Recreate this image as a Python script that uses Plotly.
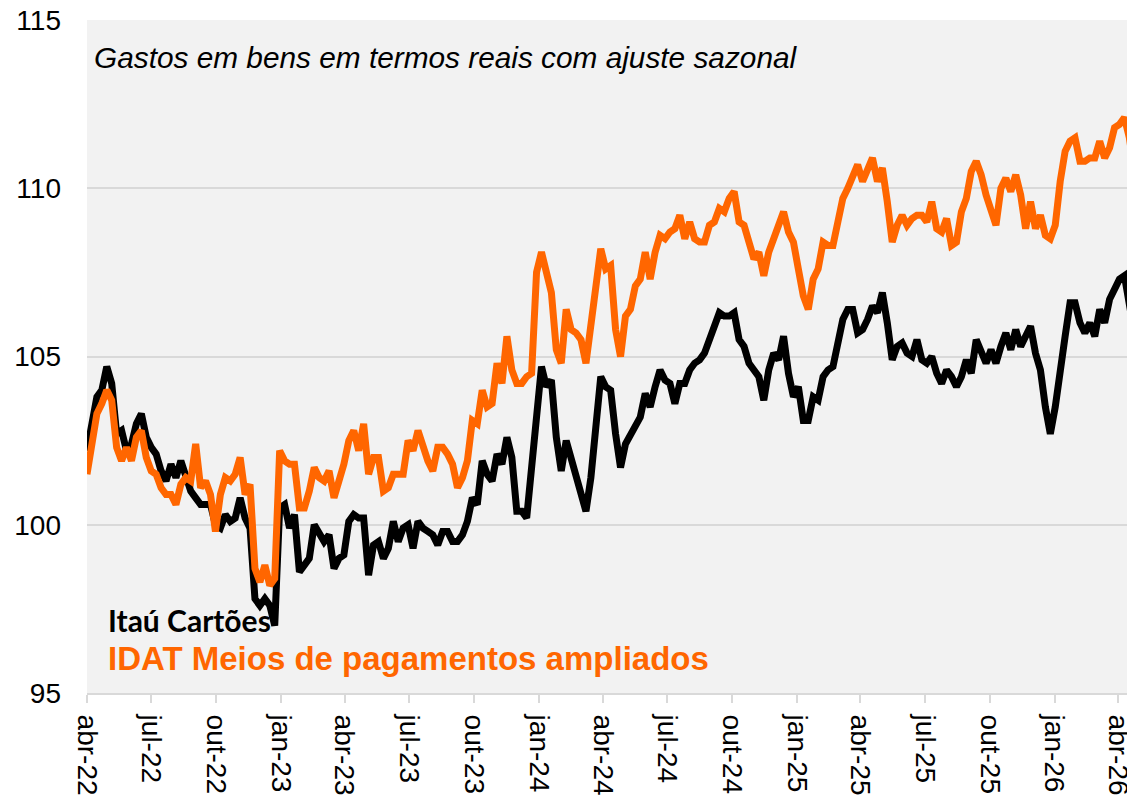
import pandas as pd
import plotly.graph_objects as go

# weekly readings, starting 1 Apr 2022
start = "2022-04-01"

itau = [
    102.2, 103.0, 103.8, 104.0, 104.7, 104.2, 102.7, 102.8, 102.2, 102.4,
    103.0, 103.3, 102.6, 102.3, 102.1, 101.6, 101.3, 101.8, 101.4, 101.9,
    101.4, 101.0, 100.8, 100.6, 100.6, 100.6, 100.0, 99.9, 100.3, 100.1,
    100.2, 100.8, 100.2, 99.9, 97.8, 97.6, 97.8, 97.6, 97.0, 100.5,
    100.6, 99.9, 100.3, 98.6, 98.8, 99.0, 100.0, 99.7, 99.5, 99.7,
    98.7, 99.0, 99.1, 100.1, 100.3, 100.2, 100.2, 98.5, 99.4, 99.5,
    99.0, 99.3, 100.1, 99.5, 99.9, 100.0, 99.3, 100.1, 99.9, 99.8,
    99.7, 99.4, 99.8, 99.8, 99.5, 99.5, 99.7, 100.1, 100.8, 100.6,
    101.9, 101.5, 101.3, 102.1, 101.8, 102.6, 102.0, 100.4, 100.4, 100.2,
    101.9, 103.5, 104.7, 104.1, 104.3, 102.6, 101.6, 102.5, 102.0, 101.4,
    100.9, 100.4, 101.4, 103.0, 104.4, 104.1, 104.0, 102.7, 101.7, 102.4,
    102.7, 103.0, 103.2, 103.9, 103.5, 104.1, 104.6, 104.3, 104.2, 103.6,
    104.2, 104.2, 104.6, 104.8, 104.9, 105.1, 105.5, 106.0, 106.3, 106.2,
    106.2, 106.3, 105.5, 105.3, 104.8, 104.6, 104.4, 103.7, 104.6, 105.1,
    104.9, 105.6, 104.5, 103.8, 104.1, 103.1, 103.1, 103.8, 103.7, 104.4,
    104.6, 104.7, 105.5, 106.1, 106.4, 106.4, 105.7, 105.8, 106.1, 106.5,
    106.3, 106.9, 106.0, 104.9, 105.3, 105.4, 105.1, 105.0, 105.5, 104.9,
    104.8, 105.0, 104.5, 104.2, 104.6, 104.4, 104.1, 104.4, 104.9, 104.5,
    105.5, 105.1, 104.8, 105.2, 104.8, 105.3, 105.7, 105.2, 105.8, 105.3,
    105.6, 105.9, 105.1, 104.6, 103.5, 102.7, 103.5, 104.4, 105.6, 106.6,
    106.6, 106.0, 105.7, 106.0, 105.6, 106.4, 106.0, 106.7, 107.0, 107.3,
    107.4, 106.6, 105.7,
]

idat = [
    101.5, 102.5, 103.3, 103.6, 104.0, 103.7, 102.3, 101.9, 102.3, 101.9,
    102.6, 102.8, 102.0, 101.6, 101.5, 101.1, 100.9, 100.9, 100.6, 101.2,
    101.4, 101.3, 102.4, 101.1, 101.3, 100.9, 99.8, 100.9, 101.4, 101.3,
    101.5, 102.0, 100.9, 101.2, 98.7, 98.3, 98.8, 98.2, 98.4, 102.2,
    101.9, 101.8, 101.8, 100.5, 100.5, 101.0, 101.7, 101.4, 101.3, 101.6,
    100.8, 101.3, 101.8, 102.5, 102.8, 102.2, 103.0, 101.5, 102.0, 102.0,
    101.0, 101.1, 101.5, 101.5, 101.5, 102.5, 102.2, 102.8, 102.3, 101.9,
    101.6, 102.3, 102.3, 102.1, 101.8, 101.1, 101.4, 101.9, 103.1, 103.0,
    104.0, 103.5, 103.6, 104.8, 104.2, 105.6, 104.6, 104.2, 104.2, 104.4,
    104.5, 107.5, 108.1, 107.4, 106.9, 105.2, 104.8, 106.4, 105.8, 105.7,
    105.5, 104.8, 105.9, 107.2, 108.2, 107.6, 107.7, 105.8, 105.0, 106.2,
    106.4, 107.1, 107.3, 108.1, 107.3, 108.1, 108.6, 108.5, 108.7, 108.8,
    109.2, 108.5, 109.0, 108.5, 108.4, 108.4, 108.9, 109.0, 109.4, 109.3,
    109.7, 109.9, 109.0, 108.9, 108.4, 107.9, 108.1, 107.4, 108.1, 108.5,
    108.8, 109.3, 108.7, 108.4, 107.6, 106.8, 106.4, 107.3, 107.6, 108.4,
    108.3, 108.3, 109.0, 109.7, 110.0, 110.3, 110.7, 110.2, 110.6, 110.9,
    110.2, 110.6, 109.6, 108.4, 108.9, 109.2, 108.9, 109.1, 109.2, 109.2,
    109.0, 109.6, 108.8, 108.7, 109.1, 108.3, 108.4, 109.3, 109.7, 110.5,
    110.8, 110.4, 109.8, 109.3, 108.9, 110.0, 110.3, 109.9, 110.4, 109.8,
    108.8, 109.6, 108.8, 109.2, 108.6, 108.5, 108.9, 110.2, 111.1, 111.4,
    111.5, 110.8, 110.8, 110.9, 110.9, 111.4, 110.9, 111.2, 111.8, 111.9,
    112.1, 111.5, 110.5,
]

tick_dates = ["2022-04-01", "2022-07-01", "2022-10-01", "2023-01-01",
              "2023-04-01", "2023-07-01", "2023-10-01", "2024-01-01",
              "2024-04-01", "2024-07-01", "2024-10-01", "2025-01-01",
              "2025-04-01", "2025-07-01", "2025-10-01", "2026-01-01",
              "2026-04-01"]
tick_labels = ["abr-22", "jul-22", "out-22", "jan-23", "abr-23", "jul-23",
               "out-23", "jan-24", "abr-24", "jul-24", "out-24", "jan-25",
               "abr-25", "jul-25", "out-25", "jan-26", "abr-26"]

dates = pd.date_range(start, periods=len(itau), freq="7D")

fig = go.Figure()
fig.add_trace(go.Scatter(x=dates, y=itau, mode="lines", name="Itaú Cartões",
                         line=dict(color="#000000", width=7)))
fig.add_trace(go.Scatter(x=dates, y=idat, mode="lines",
                         name="IDAT Meios de pagamentos ampliados",
                         line=dict(color="#FF6600", width=7)))

# page body has an 8px margin, so the figure is a bit smaller than the window
fig.update_layout(
    width=1127, height=790,
    margin=dict(l=79, r=0, t=12, b=105),
    paper_bgcolor="white", plot_bgcolor="#f2f2f2",
    showlegend=False,
    font=dict(family="Liberation Sans, Arial", size=28, color="#000000"),
)
fig.update_yaxes(range=[95, 115], dtick=5, showgrid=True,
                 gridcolor="#d9d9d9", gridwidth=2, zeroline=False,
                 ticklabelstandoff=25, tickfont=dict(size=28),
                 ticklabeloverflow="allow", automargin=False)
fig.update_xaxes(type="date", range=["2022-04-01", "2026-04-25"],
                 tickvals=tick_dates, ticktext=tick_labels, tickangle=90,
                 ticks="outside", ticklen=8, tickwidth=2, tickcolor="#d9d9d9",
                 showgrid=False, showline=True, linecolor="#d9d9d9",
                 linewidth=2, ticklabelstandoff=6, tickfont=dict(size=28),
                 ticklabeloverflow="allow", automargin=False)

fig.add_annotation(text="<i>Gastos em bens em termos reais com ajuste sazonal</i>",
                   xref="paper", yref="paper", x=0.005, y=0.945,
                   xanchor="left", yanchor="middle", showarrow=False,
                   font=dict(family="Liberation Sans, Arial", size=29.8))
fig.add_annotation(text="<b>Itaú Cartões</b>",
                   xref="paper", yref="paper", x=0.018, y=0.108,
                   xanchor="left", yanchor="middle", showarrow=False,
                   font=dict(family="Lato", size=30, color="#000000"))
fig.add_annotation(text="<b>IDAT Meios de pagamentos ampliados</b>",
                   xref="paper", yref="paper", x=0.018, y=0.052,
                   xanchor="left", yanchor="middle", showarrow=False,
                   font=dict(family="Liberation Sans, Arial", size=33,
                             color="#FF6600"))

fig.write_html("out.html", config={"displayModeBar": False})
